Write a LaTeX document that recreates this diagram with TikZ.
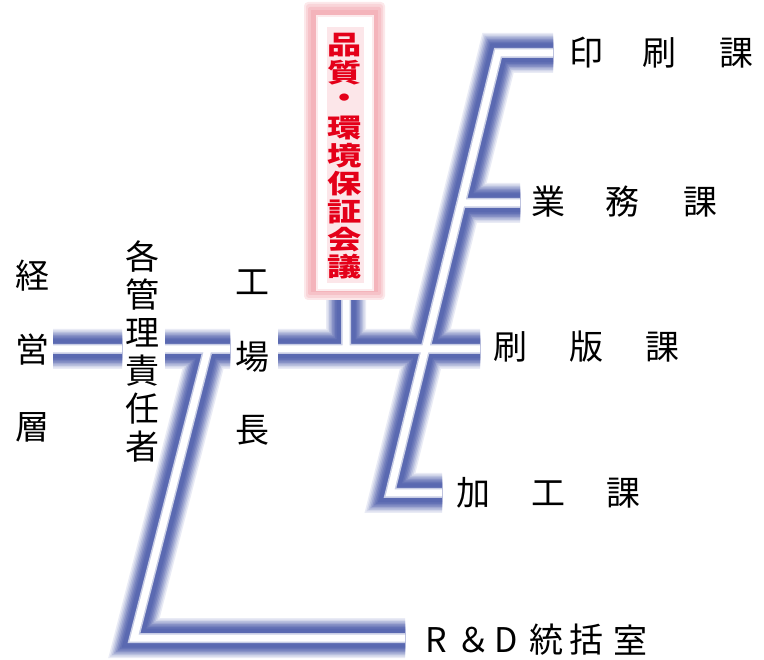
\documentclass[tikz,border=0pt]{standalone}
\usepackage{graphicx}
\usepackage{fontspec}
\newfontfamily\jp{Noto Sans CJK JP}
\definecolor{barblue}{RGB}{72,88,168}
\definecolor{glow}{RGB}{240,150,160}
\definecolor{redtxt}{RGB}{228,0,25}
\definecolor{qfill}{RGB}{252,230,233}
\newcommand\barnet[1]{\draw[#1, line join=miter] (a1)--(a2) (b1)--(b2) (c1)--(c2)--(c3) (d1)--(d2) (e1)--(e2) (f1)--(f2)--(f3)--(f4) (g1)--(g2);}
\begin{document}
\begin{tikzpicture}[x=1pt,y=-1pt,
  lbl/.style={font=\jp\fontsize{34}{34}\selectfont, inner sep=0pt, text=black},
  rlbl/.style={font=\jp\bfseries\fontsize{29}{29}\selectfont, inner sep=0pt, text=redtxt}]
\useasboundingbox (0,0) rectangle (764,660);
% junction coordinates
\coordinate (a1) at (53,349);  \coordinate (a2) at (122,349);
\coordinate (b1) at (165,349); \coordinate (b2) at (230,349);
\coordinate (c1) at (208,349); \coordinate (c2) at (134,638); \coordinate (c3) at (405,638);
\coordinate (d1) at (278,349); \coordinate (d2) at (480,349);
\coordinate (e1) at (346,292); \coordinate (e2) at (346,349);
\coordinate (f1) at (553,53);  \coordinate (f2) at (498,53); \coordinate (f3) at (390,493); \coordinate (f4) at (442,493);
\coordinate (g1) at (461,203); \coordinate (g2) at (520,203);
% blurred blue bars
\foreach \w/\c in {40/12,37/24,34/38,31/52,28/65,25/76,22/84,19/90}{\barnet{line width=\w pt, draw=barblue!\c}}
\barnet{line width=10pt, draw=barblue!30}
\barnet{line width=7pt, draw=white}
% quality box
\fill[glow!22, rounded corners=4pt] (304,2) rectangle (385,300);
\fill[glow!40, rounded corners=3pt] (306,4) rectangle (383,298);
\fill[glow!58, rounded corners=2pt] (308,7) rectangle (381,295);
\fill[glow!72] (311,10) rectangle (378,292);
\fill[glow!20] (316,15) rectangle (374,291);
\fill[white] (318,17) rectangle (372,289);
\node (qbox) [fill=qfill, minimum width=37pt, minimum height=256pt, inner sep=0pt] at (345,155) {};
\foreach \ch [count=\i from 0] in {品,質,・,環,境,保,証,会,議}{
  \node[rlbl] (q\i) at (345,{45+27.75*\i}) {\scalebox{1.18}[0.9]{\ch}};
}
% left labels
\node[lbl] (k1) at (33,276) {経};
\node[lbl] (k2) at (33,350) {営};
\node[lbl] (k3) at (33,427) {層};
\foreach \ch [count=\i from 0] in {各,管,理,責,任,者}{
  \node[lbl] (m\i) at (142,{257+38*\i}) {\ch};
}
\node[lbl] (j1) at (252,282) {工};
\node[lbl] (j2) at (252,357) {場};
\node[lbl] (j3) at (252,430) {長};
% right labels
\node[lbl] (p1) at (586,53) {印};
\node[lbl] (p2) at (659,53) {刷};
\node[lbl] (p3) at (736,53) {課};
\node[lbl] (s1) at (548,202) {業};
\node[lbl] (s2) at (622,202) {務};
\node[lbl] (s3) at (700,202) {課};
\node[lbl] (h1) at (510,347) {刷};
\node[lbl] (h2) at (586,347) {版};
\node[lbl] (h3) at (662,347) {課};
\node[lbl] (w1) at (473,493) {加};
\node[lbl] (w2) at (548,493) {工};
\node[lbl] (w3) at (623,493) {課};
\node[lbl] (r1) at (436,640) {R};
\node[lbl] (r2) at (473,640) {＆};
\node[lbl] (r3) at (506,640) {D};
\node[lbl] (r4) at (546,640) {統};
\node[lbl] (r5) at (586,640) {括};
\node[lbl] (r6) at (630,640) {室};
\end{tikzpicture}
\end{document}
